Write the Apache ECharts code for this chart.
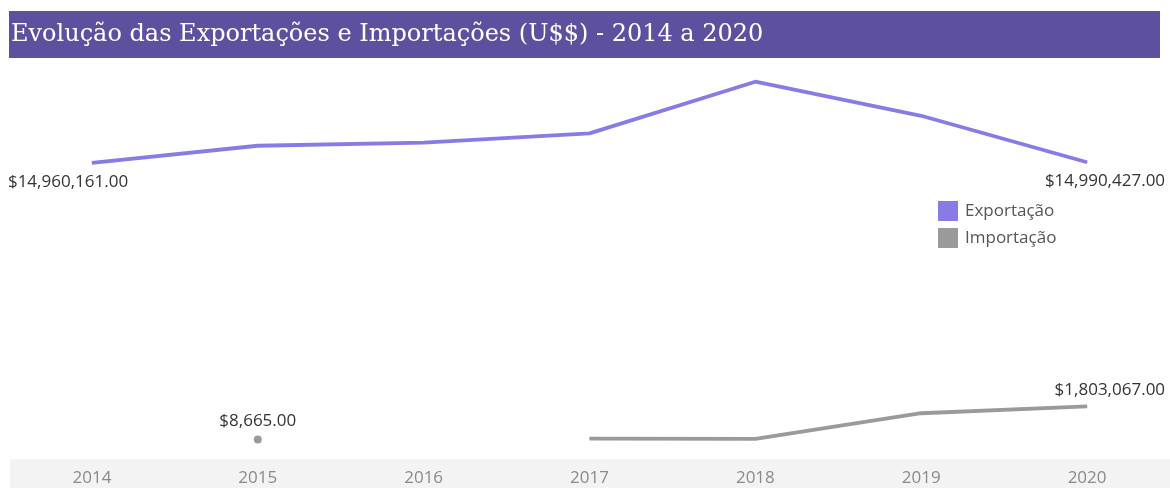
<!DOCTYPE html>
<html>
<head>
<meta charset="utf-8">
<script src="https://cdn.jsdelivr.net/npm/echarts@6/dist/echarts.min.js"></script>
<style>
  html, body { margin: 0; padding: 0; background: #fff; }
  #chart { width: 1170px; height: 488px; }
</style>
</head>
<body>
<div id="chart"></div>
<script>
// Anos (eixo X)
const years = ['2014', '2015', '2016', '2017', '2018', '2019', '2020'];
// Exportações em US$
const exportacao = [14960161, 15880000, 16050000, 16550000, 19340000, 17500000, 14990427];
// Importações em US$ (null = sem registro no ano)
const importacao = [null, 8665, null, 60000, 45000, 1430000, 1803067];
// Pontos com rótulo de valor
const exportLabelIdx = [0, 6];
const importLabelIdx = [1, 6];

const fmt = new Intl.NumberFormat('en-US', { minimumFractionDigits: 2, maximumFractionDigits: 2 });
const money = v => '$' + fmt.format(v);

const PURPLE = '#877ce6';
const GRAY = '#9a9a9a';
const LABEL_FONT = '"Open Sans", "Noto Sans", sans-serif';

function isolated(arr, i) {
  return arr[i] != null && (i === 0 || arr[i - 1] == null) && (i === arr.length - 1 || arr[i + 1] == null);
}

// Points on a line get a hairline symbol (so their labels can render);
// a point without neighbours is drawn as a visible dot.
function buildData(arr, labelIdx, labelFor) {
  return arr.map((v, i) => {
    const item = { value: v, symbolSize: isolated(arr, i) ? 8 : 1 };
    if (labelIdx.includes(i)) {
      item.label = Object.assign({ show: true, formatter: p => money(p.value) }, labelFor(i, arr.length));
    }
    return item;
  });
}

const exportData = buildData(exportacao, exportLabelIdx, (i, n) =>
  i === 0 ? { position: 'bottom', distance: 10, align: 'left', offset: [-84, 0] }
          : { position: 'bottom', distance: 10, align: 'right', offset: [78, 0] });

const importData = buildData(importacao, importLabelIdx, (i, n) =>
  i === n - 1 ? { position: 'top', distance: 7, align: 'right', offset: [78, 0] }
              : { position: 'top', distance: 6 });

const chart = echarts.init(document.getElementById('chart'), null, { renderer: 'canvas' });

chart.setOption({
  animation: false,
  backgroundColor: '#ffffff',
  graphic: [
    {
      type: 'rect',
      left: 9, top: 11,
      shape: { width: 1151, height: 47 },
      style: { fill: '#5c509f' },
      z: 0
    },
    {
      type: 'text',
      left: 11, top: 23,
      style: {
        text: 'Evolução das Exportações e Importações (U$$) - 2014 a 2020',
        fill: '#ffffff',
        font: '24px "DejaVu Serif", "Liberation Serif", serif'
      },
      z: 1
    },
    {
      type: 'rect',
      left: 10, top: 459,
      shape: { width: 1160, height: 29 },
      style: { fill: '#f3f3f3' },
      z: -10
    }
  ],
  legend: {
    orient: 'vertical',
    left: 938, top: 201,
    padding: 0,
    itemWidth: 20, itemHeight: 20,
    itemGap: 7,
    icon: 'rect',
    textStyle: { color: '#555', fontSize: 17, fontFamily: LABEL_FONT, padding: [0, 0, 0, 2] },
    data: [
      { name: 'Exportação', itemStyle: { color: PURPLE } },
      { name: 'Importação', itemStyle: { color: GRAY } }
    ]
  },
  grid: { left: 9, width: 1163, top: 69.5, bottom: 48.3 },
  xAxis: {
    type: 'category',
    data: years,
    boundaryGap: true,
    axisLine: { show: false },
    axisTick: { show: false },
    axisLabel: { color: '#8a8a8a', fontSize: 17, fontFamily: LABEL_FONT, margin: 30 }
  },
  yAxis: {
    type: 'value',
    min: 0,
    max: 20000000,
    show: false,
    splitLine: { show: false }
  },
  series: [
    {
      name: 'Exportação',
      type: 'line',
      data: exportData,
      symbol: 'circle',
      showSymbol: true,
      lineStyle: { color: PURPLE, width: 3.8 },
      itemStyle: { color: PURPLE },
      label: { color: '#333', fontSize: 17, fontFamily: LABEL_FONT },
      emphasis: { disabled: true },
      z: 3
    },
    {
      name: 'Importação',
      type: 'line',
      data: importData,
      symbol: 'circle',
      showSymbol: true,
      connectNulls: false,
      lineStyle: { color: GRAY, width: 3.8 },
      itemStyle: { color: GRAY },
      label: { color: '#333', fontSize: 17, fontFamily: LABEL_FONT },
      emphasis: { disabled: true },
      z: 3
    }
  ]
});
</script>
</body>
</html>
